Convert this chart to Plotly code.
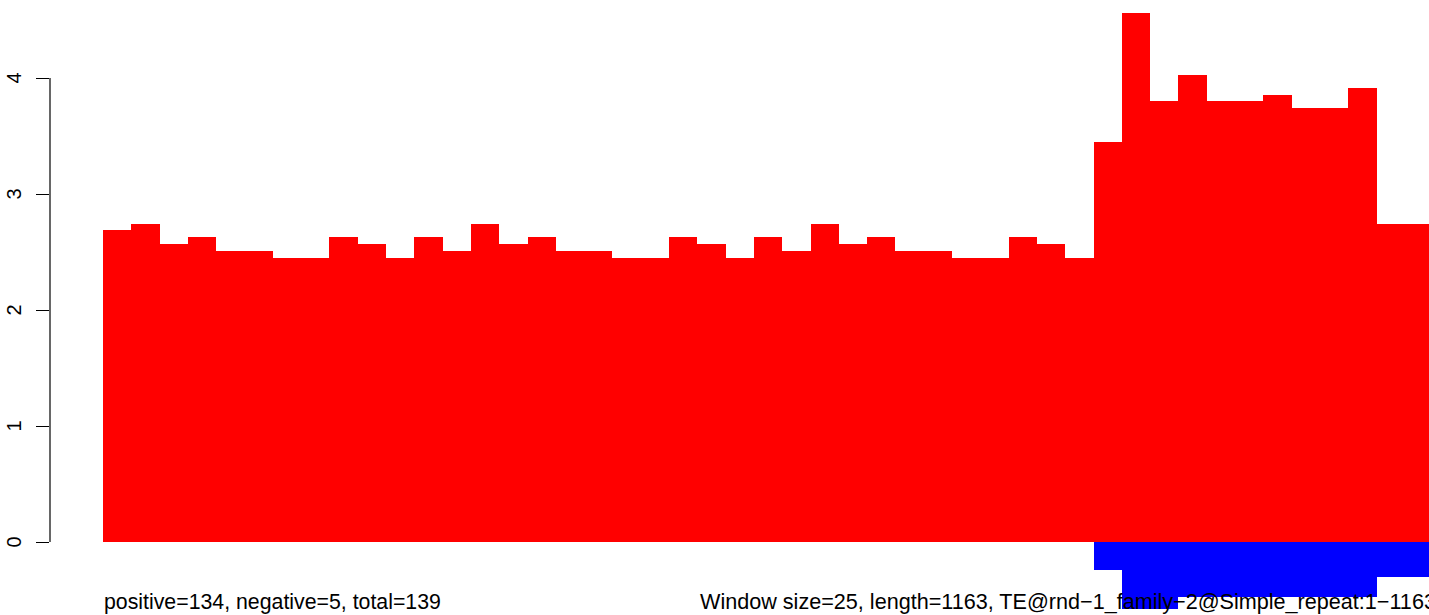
import plotly.graph_objects as go

# Window index (one bar per 25-bp window)
windows = list(range(47))

positive = [2.69, 2.74, 2.57, 2.63, 2.51, 2.51, 2.45, 2.45, 2.63, 2.57,
            2.45, 2.63, 2.51, 2.74, 2.57, 2.63, 2.51, 2.51, 2.45, 2.45,
            2.63, 2.57, 2.45, 2.63, 2.51, 2.74, 2.57, 2.63, 2.51, 2.51,
            2.45, 2.45, 2.63, 2.57, 2.45, 3.45, 4.56, 3.80, 4.03, 3.80,
            3.80, 3.85, 3.74, 3.74, 3.91, 2.74, 2.74]

negative = [0] * 35 + [-0.24, -0.58, -0.58, -0.47, -0.47, -0.47, -0.47,
                       -0.47, -0.47, -0.47, -0.30, -0.30]

y_ticks = [0, 1, 2, 3, 4]

left_text = "positive=134, negative=5, total=139"
right_text = "Window size=25, length=1163, TE@rnd\u22121_family\u22122@Simple_repeat:1\u22121163"

# body margin is removed by post_script, so figure coords == page coords
W, H = 1429, 615
L = 50
plot_w = W - L
bar_px = 28.3
x0_px = 103
zero_px = 542
unit_px = 116.0

def px_to_u(px):
    return (px - x0_px) / bar_px - 0.5

def px_to_v(py):
    return (zero_px - py) / unit_px

FONT = "Liberation Sans, Arial, Helvetica, sans-serif"

fig = go.Figure()
fig.add_trace(go.Bar(x=windows, y=positive, width=1, marker=dict(color="#FF0000", line=dict(width=0)),
                     showlegend=False, hoverinfo="skip"))
fig.add_trace(go.Bar(x=windows, y=negative, width=1, marker=dict(color="#0000FF", line=dict(width=0)),
                     showlegend=False, hoverinfo="skip"))

annotations = []
for t in y_ticks:
    annotations.append(dict(x=(13.5 - L) / plot_w, xref="paper", y=t, yref="y",
                            text=str(t), showarrow=False, textangle=-90,
                            xanchor="center", yanchor="middle",
                            font=dict(family=FONT, size=20, color="black")))
ty = 1 - 601.7 / H
annotations.append(dict(x=(102 - L) / plot_w, xref="paper", y=ty, yref="paper",
                        text=left_text, showarrow=False, xanchor="left", yanchor="middle",
                        font=dict(family=FONT, size=21.3, color="black")))
annotations.append(dict(x=(698 - L) / plot_w, xref="paper", y=ty, yref="paper",
                        text=right_text, showarrow=False, xanchor="left", yanchor="middle",
                        font=dict(family=FONT, size=21.6, color="black")))

fig.update_layout(
    width=W, height=H,
    margin=dict(l=L, r=0, t=0, b=0),
    paper_bgcolor="white", plot_bgcolor="white",
    barmode="relative", bargap=0,
    hovermode=False,
    xaxis=dict(range=[px_to_u(L), px_to_u(W)], visible=False),
    yaxis=dict(range=[px_to_v(H), px_to_v(0)], showgrid=False, zeroline=False,
               showline=False, tickvals=y_ticks, ticks="outside", ticklen=13,
               tickwidth=1.2, tickcolor="black", showticklabels=False),
    shapes=[dict(type="line", xref="paper", yref="y", x0=0, x1=0, y0=0, y1=4,
                 line=dict(color="black", width=1.2))],
    annotations=annotations,
)

fig.write_html("out.html",
               config={"displayModeBar": False},
               post_script="document.body.style.margin='0';document.body.style.overflow='hidden';")
